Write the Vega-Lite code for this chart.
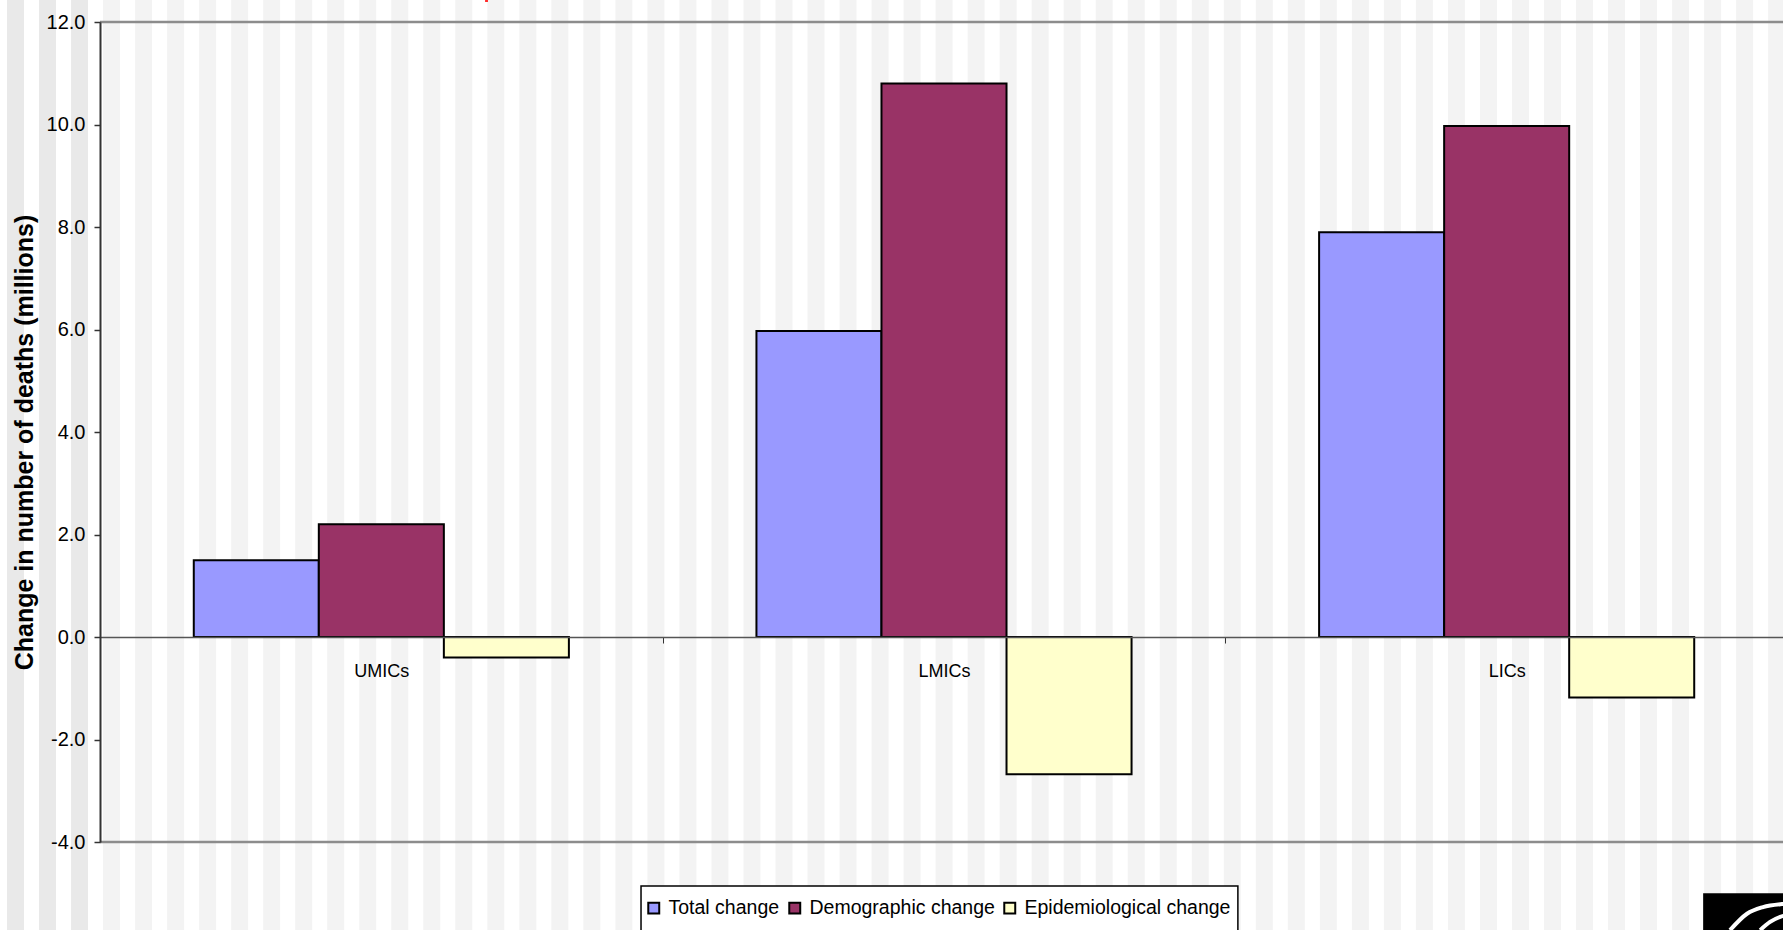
{
  "$schema": "https://vega.github.io/schema/vega-lite/v6.json",
  "width": 1688,
  "height": 820,
  "padding": {"left": 100, "top": 22, "right": 0, "bottom": 88},
  "autosize": {"type": "none"},
  "background": "white",
  "config": {
    "view": {"stroke": null},
    "font": "Liberation Sans"
  },
  "datasets": {
    "stripes": [
      {"stripe": 0, "end": 0.53, "shade": "dark"},
      {"stripe": 1, "end": 1.53, "shade": "dark"},
      {"stripe": 2, "end": 2.53, "shade": "dark"},
      {"stripe": 3, "end": 3.53, "shade": "light"},
      {"stripe": 4, "end": 4.53, "shade": "light"},
      {"stripe": 5, "end": 5.53, "shade": "light"},
      {"stripe": 6, "end": 6.53, "shade": "light"},
      {"stripe": 7, "end": 7.53, "shade": "light"},
      {"stripe": 8, "end": 8.53, "shade": "light"},
      {"stripe": 9, "end": 9.53, "shade": "light"},
      {"stripe": 10, "end": 10.53, "shade": "light"},
      {"stripe": 11, "end": 11.53, "shade": "light"},
      {"stripe": 12, "end": 12.53, "shade": "light"},
      {"stripe": 13, "end": 13.53, "shade": "light"},
      {"stripe": 14, "end": 14.53, "shade": "light"},
      {"stripe": 15, "end": 15.53, "shade": "light"},
      {"stripe": 16, "end": 16.53, "shade": "light"},
      {"stripe": 17, "end": 17.53, "shade": "light"},
      {"stripe": 18, "end": 18.53, "shade": "light"},
      {"stripe": 19, "end": 19.53, "shade": "light"},
      {"stripe": 20, "end": 20.53, "shade": "light"},
      {"stripe": 21, "end": 21.53, "shade": "light"},
      {"stripe": 22, "end": 22.53, "shade": "light"},
      {"stripe": 23, "end": 23.53, "shade": "light"},
      {"stripe": 24, "end": 24.53, "shade": "light"},
      {"stripe": 25, "end": 25.53, "shade": "light"},
      {"stripe": 26, "end": 26.53, "shade": "light"},
      {"stripe": 27, "end": 27.53, "shade": "light"},
      {"stripe": 28, "end": 28.53, "shade": "light"},
      {"stripe": 29, "end": 29.53, "shade": "light"},
      {"stripe": 30, "end": 30.53, "shade": "light"},
      {"stripe": 31, "end": 31.53, "shade": "light"},
      {"stripe": 32, "end": 32.53, "shade": "light"},
      {"stripe": 33, "end": 33.53, "shade": "light"},
      {"stripe": 34, "end": 34.53, "shade": "light"},
      {"stripe": 35, "end": 35.53, "shade": "light"},
      {"stripe": 36, "end": 36.53, "shade": "light"},
      {"stripe": 37, "end": 37.53, "shade": "light"},
      {"stripe": 38, "end": 38.53, "shade": "light"},
      {"stripe": 39, "end": 39.53, "shade": "light"},
      {"stripe": 40, "end": 40.53, "shade": "light"},
      {"stripe": 41, "end": 41.53, "shade": "light"},
      {"stripe": 42, "end": 42.53, "shade": "light"},
      {"stripe": 43, "end": 43.53, "shade": "light"},
      {"stripe": 44, "end": 44.53, "shade": "light"},
      {"stripe": 45, "end": 45.53, "shade": "light"},
      {"stripe": 46, "end": 46.53, "shade": "light"},
      {"stripe": 47, "end": 47.53, "shade": "light"},
      {"stripe": 48, "end": 48.53, "shade": "light"},
      {"stripe": 49, "end": 49.53, "shade": "light"},
      {"stripe": 50, "end": 50.53, "shade": "light"},
      {"stripe": 51, "end": 51.53, "shade": "light"},
      {"stripe": 52, "end": 52.53, "shade": "light"},
      {"stripe": 53, "end": 53.53, "shade": "light"},
      {"stripe": 54, "end": 54.53, "shade": "light"},
      {"stripe": 55, "end": 55.53, "shade": "light"}
    ],
    "deaths": [
      {"group": "UMICs", "component": "Total change", "change": 1.5},
      {"group": "UMICs", "component": "Demographic change", "change": 2.2},
      {"group": "UMICs", "component": "Epidemiological change", "change": -0.4},
      {"group": "LMICs", "component": "Total change", "change": 5.97},
      {"group": "LMICs", "component": "Demographic change", "change": 10.8},
      {"group": "LMICs", "component": "Epidemiological change", "change": -2.68},
      {"group": "LICs", "component": "Total change", "change": 7.9},
      {"group": "LICs", "component": "Demographic change", "change": 9.97},
      {"group": "LICs", "component": "Epidemiological change", "change": -1.18}
    ],
    "crest": [
      {"arc": "outer", "u": 53.81, "v": -5.72},
      {"arc": "outer", "u": 54.34, "v": -5.40},
      {"arc": "outer", "u": 54.84, "v": -5.27},
      {"arc": "outer", "u": 55.43, "v": -5.21},
      {"arc": "outer", "u": 55.62, "v": -5.20},
      {"arc": "inner", "u": 54.75, "v": -5.72},
      {"arc": "inner", "u": 55.06, "v": -5.56},
      {"arc": "inner", "u": 55.38, "v": -5.46},
      {"arc": "inner", "u": 55.62, "v": -5.42}
    ]
  },
  "resolve": {"scale": {"x": "independent"}},
  "layer": [
    {
      "description": "Vertical pinstripe backdrop, darker behind the value axis; carries the value axis",
      "data": {"name": "stripes"},
      "mark": {"type": "rect", "clip": false},
      "encoding": {
        "x": {"field": "stripe", "type": "quantitative", "axis": null,
              "scale": {"domain": [2.904, 55.62], "nice": false, "zero": false}},
        "x2": {"field": "end"},
        "y": {
          "datum": 12.45, "type": "quantitative",
          "scale": {"domain": [-4, 12], "nice": false},
          "axis": {
            "title": "Change in number of deaths (millions)", "zindex": 1,
            "titleFont": "Liberation Sans", "titleFontWeight": "bold", "titleFontSize": 25,
            "titleColor": "#000000", "titleX": -63, "titleY": 420, "titleAnchor": "middle",
            "values": [-4, -2, 0, 2, 4, 6, 8, 10, 12], "format": ".1f",
            "labelExpr": "replace(datum.label, '\u2212', '-')",
            "labelFontSize": 20, "labelColor": "#000000", "labelFont": "Liberation Sans",
            "labelPadding": 9, "tickSize": 6, "tickColor": "#333333", "tickWidth": 1.5,
            "domainColor": "#333333", "domainWidth": 2, "grid": false
          }
        },
        "y2": {"datum": -5.72},
        "fill": {"condition": {"test": "datum.shade === 'dark'", "value": "#e9e9e9"}, "value": "#f3f3f3"}
      }
    },
    {
      "description": "Plot frame lines at the top and bottom of the value range",
      "data": {"values": [{"level": 12}, {"level": -4}]},
      "mark": {"type": "rule", "stroke": "#8c8c8c", "strokeWidth": 2.5},
      "encoding": {
        "y": {"field": "level", "type": "quantitative",
              "scale": {"domain": [-4, 12], "nice": false},
              "axis": {"title": "Change in number of deaths (millions)"}}
      }
    },
    {
      "description": "White legend panel, running off the bottom edge",
      "data": {"values": [{"from": 19.8, "to": 38.44}]},
      "mark": {"type": "rect", "fill": "#ffffff", "stroke": "#000000", "strokeWidth": 1.5, "clip": false},
      "encoding": {
        "x": {"field": "from", "type": "quantitative", "axis": null,
              "scale": {"domain": [2.904, 55.62], "nice": false, "zero": false}},
        "x2": {"field": "to"},
        "y": {"datum": -4.859, "type": "quantitative",
              "scale": {"domain": [-4, 12], "nice": false},
              "axis": {"title": "Change in number of deaths (millions)"}},
        "y2": {"datum": -6.0}
      }
    },
    {
      "data": {"name": "deaths"},
      "mark": {"type": "bar", "stroke": "#000000", "strokeWidth": 2},
      "encoding": {
        "x": {
          "field": "group", "type": "nominal",
          "sort": ["UMICs", "LMICs", "LICs"],
          "scale": {"paddingInner": 0, "paddingOuter": 0},
          "axis": {
            "title": null, "orient": "bottom", "offset": -205, "zindex": 1,
            "labelAngle": 0, "labelFontSize": 18, "labelColor": "#000000",
            "labelFont": "Liberation Sans", "labelPadding": 19,
            "tickBand": "extent", "tickSize": 6, "tickColor": "#333333", "tickWidth": 1,
            "domainColor": "#555555", "domainWidth": 1.5, "grid": false
          }
        },
        "xOffset": {
          "field": "component", "type": "nominal",
          "sort": ["Total change", "Demographic change", "Epidemiological change"],
          "scale": {"paddingInner": 0, "paddingOuter": 0.75}
        },
        "y": {
          "field": "change", "type": "quantitative", "stack": null,
          "scale": {"domain": [-4, 12], "nice": false},
          "axis": {"title": "Change in number of deaths (millions)"}
        },
        "color": {
          "field": "component", "type": "nominal",
          "sort": ["Total change", "Demographic change", "Epidemiological change"],
          "scale": {
            "domain": ["Total change", "Demographic change", "Epidemiological change"],
            "range": ["#9999ff", "#993366", "#ffffcc"]
          },
          "legend": {
            "title": null, "orient": "none", "direction": "horizontal",
            "legendX": 544, "legendY": 876, "padding": 0, "zindex": 1,
            "symbolType": "square", "symbolSize": 120, "symbolStrokeColor": "#000000",
            "symbolStrokeWidth": 2, "symbolOpacity": 1,
            "labelFontSize": 19.5, "labelFont": "Liberation Sans", "labelColor": "#000000",
            "labelOffset": 5, "columnPadding": 5, "columns": 3, "labelLimit": 400
          }
        }
      }
    },
    {
      "description": "Black panel of the publisher's crest in the lower right corner",
      "data": {"values": [{"from": 52.97, "to": 55.62}]},
      "mark": {"type": "rect", "fill": "#000000", "clip": false},
      "encoding": {
        "x": {"field": "from", "type": "quantitative", "axis": null,
              "scale": {"domain": [2.904, 55.62], "nice": false, "zero": false}},
        "x2": {"field": "to"},
        "y": {"datum": -5.0, "type": "quantitative",
              "scale": {"domain": [-4, 12], "nice": false},
              "axis": {"title": "Change in number of deaths (millions)"}},
        "y2": {"datum": -5.72}
      }
    },
    {
      "description": "White arcs of the crest",
      "data": {"name": "crest"},
      "mark": {"type": "line", "stroke": "#ffffff", "strokeWidth": 4, "interpolate": "monotone", "clip": false},
      "encoding": {
        "x": {"field": "u", "type": "quantitative", "axis": null,
              "scale": {"domain": [2.904, 55.62], "nice": false, "zero": false}},
        "y": {"field": "v", "type": "quantitative",
              "scale": {"domain": [-4, 12], "nice": false},
              "axis": {"title": "Change in number of deaths (millions)"}},
        "detail": {"field": "arc", "type": "nominal"}
      }
    },
    {
      "description": "Descender of a red heading cut off at the top edge",
      "data": {"values": [{"from": 14.93, "to": 15.02}]},
      "mark": {"type": "rect", "fill": "#ff2a2a", "clip": false},
      "encoding": {
        "x": {"field": "from", "type": "quantitative", "axis": null,
              "scale": {"domain": [2.904, 55.62], "nice": false, "zero": false}},
        "x2": {"field": "to"},
        "y": {"datum": 12.45, "type": "quantitative",
              "scale": {"domain": [-4, 12], "nice": false},
              "axis": {"title": "Change in number of deaths (millions)"}},
        "y2": {"datum": 12.39}
      }
    }
  ]
}
